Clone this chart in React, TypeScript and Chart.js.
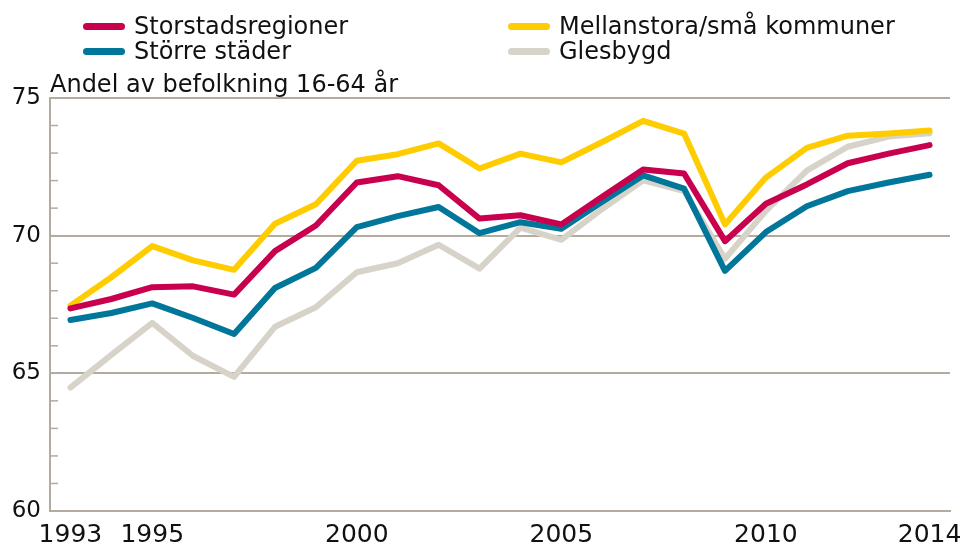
import React, { useEffect, useRef } from "react";
import { Chart, registerables } from "chart.js";

Chart.register(...registerables);

const years = [
  "1993", "1994", "1995", "1996", "1997", "1998", "1999", "2000", "2001", "2002", "2003",
  "2004", "2005", "2006", "2007", "2008", "2009", "2010", "2011", "2012", "2013", "2014",
];

const storstadsregioner = [
  67.36, 67.7, 68.13, 68.16, 67.86, 69.44, 70.37, 71.93, 72.16, 71.83, 70.62,
  70.74, 70.41, 71.41, 72.4, 72.26, 69.8, 71.16, 71.86, 72.63, 72.98, 73.29,
];
const storreStader = [
  66.94, 67.19, 67.54, 67.01, 66.43, 68.1, 68.83, 70.31, 70.71, 71.04, 70.09,
  70.49, 70.25, 71.23, 72.19, 71.71, 68.72, 70.13, 71.07, 71.62, 71.93, 72.21,
];
const mellanstora = [
  67.46, 68.49, 69.62, 69.1, 68.76, 70.43, 71.14, 72.72, 72.96, 73.35, 72.44,
  72.98, 72.66, 73.4, 74.17, 73.71, 70.41, 72.11, 73.19, 73.63, 73.71, 73.82,
];
const glesbygd = [
  64.48, 65.67, 66.83, 65.63, 64.87, 66.69, 67.4, 68.67, 69.0, 69.67, 68.8,
  70.29, 69.85, 70.97, 72.01, 71.62, 69.16, 70.9, 72.36, 73.23, 73.6, 73.72,
];

const xTickLabels = ["1993", "1995", "2000", "2005", "2010", "2014"];
const yMin = 60;
const yMax = 75;
const yMajorStep = 5;

const seriesNames = ["Storstadsregioner", "Större städer", "Mellanstora/små kommuner", "Glesbygd"];
const seriesColors = ["#C8004E", "#00779A", "#FFCC00", "#D8D3C8"];
const seriesData = [storstadsregioner, storreStader, mellanstora, glesbygd];

const GRID = "#B3AB9F";
const FONT = "'DejaVu Sans', sans-serif";
const TEXT = "#111111";

const innerTicks = {
  id: "innerTicks",
  beforeDatasetsDraw(chart: any) {
    const y = chart.scales.y;
    const ctx = chart.ctx;
    const left = chart.chartArea.left;
    ctx.save();
    ctx.strokeStyle = GRID;
    ctx.lineWidth = 1.5;
    y.ticks.forEach((t: any) => {
      const py = y.getPixelForValue(t.value);
      ctx.beginPath();
      ctx.moveTo(left, py);
      ctx.lineTo(left + 8, py);
      ctx.stroke();
    });
    ctx.restore();
  },
};

export default function App() {
  const ref = useRef<HTMLCanvasElement | null>(null);

  useEffect(() => {
    if (!ref.current) return;
    const chart = new Chart(ref.current, {
      type: "line",
      data: {
        labels: years,
        datasets: seriesNames.map((name, i) => ({
          label: name,
          data: seriesData[i],
          borderColor: seriesColors[i],
          backgroundColor: seriesColors[i],
          borderWidth: 6,
          borderCapStyle: "round",
          borderJoinStyle: "round",
          pointRadius: 0,
          tension: 0,
          fill: false,
        })),
      },
      options: {
        animation: false,
        responsive: false,
        maintainAspectRatio: false,
        layout: { padding: { left: 2.7, right: 10, top: 98, bottom: 0 } },
        plugins: {
          legend: { display: false },
          title: { display: false },
          tooltip: { enabled: false },
        },
        scales: {
          x: {
            type: "category",
            offset: true,
            grid: { display: false, drawTicks: false },
            border: { display: true, color: GRID, width: 2 },
            ticks: {
              autoSkip: false,
              maxRotation: 0,
              padding: 9,
              color: TEXT,
              font: { family: FONT, size: 25 },
              callback: function (this: any, val: any) {
                const lab = this.getLabelForValue(val);
                return xTickLabels.includes(lab) ? lab : "";
              },
            },
            afterFit: (s: any) => {
              s.paddingLeft = 0;
              s.paddingRight = 0;
              s.height = 39;
            },
          },
          y: {
            min: yMin,
            max: yMax,
            grid: {
              drawTicks: false,
              lineWidth: 2,
              color: (c: any) => (c.tick && c.tick.value % yMajorStep === 0 ? GRID : "rgba(0,0,0,0)"),
            },
            border: { display: true, color: GRID, width: 2 },
            ticks: {
              stepSize: 1,
              maxTicksLimit: 30,
              autoSkip: false,
              padding: 9,
              color: TEXT,
              font: { family: FONT, size: 23 },
              callback: (v: any) => (Number(v) % yMajorStep === 0 ? String(v) : ""),
            },
          },
        },
      },
      plugins: [innerTicks],
    } as any);
    return () => chart.destroy();
  }, []);

  const legendPos = [
    { left: 83, top: 14 },
    { left: 83, top: 39 },
    { left: 508, top: 14 },
    { left: 508, top: 39 },
  ];

  return (
    <div
      style={{
        position: "absolute",
        left: 0,
        top: 0,
        width: 960,
        height: 550,
        background: "#ffffff",
        fontFamily: FONT,
        color: TEXT,
        overflow: "hidden",
      }}
    >
      <canvas ref={ref} width={960} height={550} style={{ position: "absolute", left: 0, top: 0, width: 960, height: 550 }} />
      {seriesNames.map((name, i) => (
        <div
          key={name}
          style={{
            position: "absolute",
            left: legendPos[i].left,
            top: legendPos[i].top,
            height: 24,
            display: "flex",
            alignItems: "center",
            whiteSpace: "nowrap",
          }}
        >
          <span
            style={{
              display: "inline-block",
              width: 42,
              height: 7,
              borderRadius: 4,
              background: seriesColors[i],
              marginRight: 9,
            }}
          />
          <span style={{ fontSize: 24, lineHeight: "24px" }}>{name}</span>
        </div>
      ))}
      <div
        style={{
          position: "absolute",
          left: 50,
          top: 72,
          fontSize: 24,
          lineHeight: "24px",
          whiteSpace: "nowrap",
        }}
      >
        Andel av befolkning 16-64 år
      </div>
    </div>
  );
}
